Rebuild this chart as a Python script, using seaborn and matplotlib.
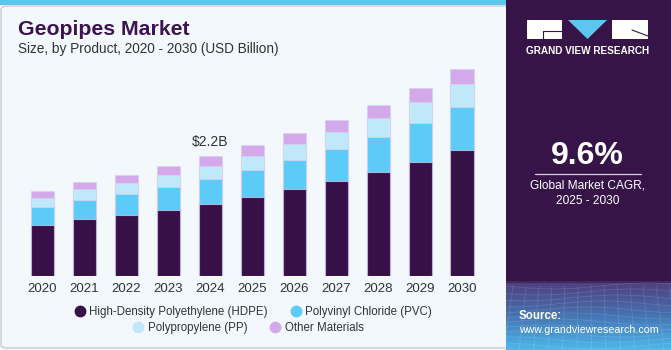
import matplotlib
matplotlib.use("Agg")
import matplotlib.pyplot as plt
import seaborn as sns
import numpy as np
import pandas as pd
from matplotlib.patches import Rectangle, Polygon, FancyBboxPatch
from matplotlib.lines import Line2D
from matplotlib.colors import LinearSegmentedColormap

years = ["2020", "2021", "2022", "2023", "2024", "2025", "2026", "2027", "2028", "2029", "2030"]
hdpe = [0.94, 1.04, 1.12, 1.22, 1.32, 1.45, 1.59, 1.74, 1.91, 2.10, 2.32]
pvc = [0.33, 0.36, 0.39, 0.42, 0.47, 0.50, 0.55, 0.59, 0.65, 0.71, 0.78]
pp = [0.17, 0.19, 0.20, 0.22, 0.24, 0.26, 0.29, 0.32, 0.35, 0.39, 0.43]
other = [0.13, 0.14, 0.15, 0.16, 0.17, 0.19, 0.20, 0.22, 0.23, 0.25, 0.28]
series_names = ["High-Density Polyethylene (HDPE)", "Polyvinyl Chloride (PVC)",
                "Polypropylene (PP)", "Other Materials"]
colors = ["#371047", "#5ccbf7", "#bfe9fa", "#d4a9eb"]

sns.set_theme(style="white")
plt.rcParams['font.family'] = ['Liberation Sans', 'DejaVu Sans']

W, H = 671, 350
fig = plt.figure(figsize=(W / 100, H / 100), dpi=100)
fig.patch.set_facecolor("#f3f8fc")

def fx(px):
    return px / W

def fy(py):
    return 1 - py / H

# border of left panel
fig.patches.append(FancyBboxPatch((fx(1), fy(348)), fx(520), fy(6) - fy(348),
                                  boxstyle="round,pad=0,rounding_size=0.01",
                                  transform=fig.transFigure, facecolor="#f3f8fc",
                                  edgecolor="#c9cdd2", linewidth=1.0, zorder=-2))
# top cyan strip
fig.patches.append(Rectangle((0, fy(5)), fx(506), 5 / H, transform=fig.transFigure,
                             facecolor="#5cc6ee", edgecolor="none", zorder=-1))

# main axes
ax = fig.add_axes([fx(11), 1 - 276 / H, fx(493.5) - fx(11), (276 - 60) / H])
ax.set_facecolor("none")

cum = np.cumsum(np.array([hdpe, pvc, pp, other]), axis=0)
for i in range(3, -1, -1):
    d = pd.DataFrame({"year": years, "val": cum[i]})
    sns.barplot(data=d, x="year", y="val", color=colors[i], width=0.55,
                edgecolor=(0.85, 0.82, 0.95, 0.7), linewidth=0.8, saturation=1, ax=ax)

ax.set_xlim(-0.75, 10.75)
ax.set_ylim(0, 3.97)
ax.set_xlabel("")
ax.set_ylabel("")
ax.set_yticks([])
ax.tick_params(axis="x", length=0, pad=5, labelsize=9.5, labelcolor="#333333")
for s in ax.spines.values():
    s.set_visible(False)

ax.text(4, cum[3][4] + 0.14, "$2.2B", ha="center", va="bottom", fontsize=10, color="#333333")

# titles
fig.text(fx(18), fy(35), "Geopipes Market", fontsize=15.3, fontweight="bold",
         color="#3b1450", ha="left", va="baseline")
fig.text(fx(18), fy(53), "Size, by Product, 2020 - 2030 (USD Billion)", fontsize=9.8,
         color="#333333", ha="left", va="baseline")

# legends
def handle(c):
    return Line2D([], [], marker="o", linestyle="none", markersize=7.5,
                  markerfacecolor=c, markeredgecolor=c)

leg1 = fig.legend([handle(colors[0]), handle(colors[1])], series_names[:2], ncol=2,
                  loc="center", bbox_to_anchor=(fx(253), fy(312)), frameon=False,
                  fontsize=8.3, handletextpad=0.35, columnspacing=1.9, handlelength=1.0,
                  borderaxespad=0, labelcolor="#333333")
leg2 = fig.legend([handle(colors[2]), handle(colors[3])], series_names[2:], ncol=2,
                  loc="center", bbox_to_anchor=(fx(248), fy(328)), frameon=False,
                  fontsize=8.3, handletextpad=0.35, columnspacing=1.9, handlelength=1.0,
                  borderaxespad=0, labelcolor="#333333")

# right panel
axr = fig.add_axes([fx(506), 0, 1 - fx(506), 1])
axr.set_zorder(2)
axr.set_xlim(506, 671)
axr.set_ylim(350, 0)
axr.axis("off")
grad_cmap = LinearSegmentedColormap.from_list(
    "g", [(0.0, "#361448"), (0.806, "#361448"), (0.81, "#4f3f7e"),
          (0.9, "#4670b0"), (1.0, "#4cb6e8")])
grad = np.linspace(0, 1, 350).reshape(-1, 1)
axr.imshow(grad, cmap=grad_cmap, aspect="auto", extent=(506, 671, 350, 0), zorder=0)
# faint mesh lines in the bottom band
for k in range(12):
    xs = np.linspace(506, 671, 50)
    yy = 286 + k * 6 + 3 * np.sin((xs - 506) / 30 + k * 0.5)
    axr.plot(xs, yy, color="white", alpha=0.12, lw=0.6, zorder=1)
for k in range(14):
    x0 = 500 + k * 13
    axr.plot([x0, x0 - 10 + k * 1.5], [286, 350], color="white", alpha=0.12, lw=0.6, zorder=1)

# logo
axr.add_patch(Rectangle((527, 20), 35, 19, facecolor="white", edgecolor="none", zorder=2))
axr.plot([543, 562], [31, 31], color="#361448", lw=0.8, zorder=3)
axr.plot([543, 543], [31, 39], color="#361448", lw=0.8, zorder=3)
axr.add_patch(Polygon([(568, 20), (607, 20), (587.5, 39)], closed=True,
                      facecolor="#5cc6ee", edgecolor="none", zorder=2))
axr.add_patch(Rectangle((612, 20), 36, 19, facecolor="white", edgecolor="none", zorder=2))
axr.plot([632, 648], [30, 36], color="#361448", lw=0.8, zorder=3)
axr.text(587.5, 51.5, "GRAND VIEW RESEARCH", ha="center", va="center", fontsize=7.2,
         fontweight="bold", color="white", zorder=3)

axr.text(587.5, 156, "9.6%", ha="center", va="center", fontsize=23, fontweight="bold",
         color="white", zorder=3)
axr.plot([535, 641], [173.5, 173.5], color="#d8d0e0", lw=0.9, zorder=3)
axr.text(587.5, 185.5, "Global Market CAGR,", ha="center", va="center", fontsize=8.6,
         color="white", zorder=3)
axr.text(587.5, 201, "2025 - 2030", ha="center", va="center", fontsize=8.6,
         color="white", zorder=3)

axr.text(519, 316, "Source:", ha="left", va="center", fontsize=8.3, fontweight="bold",
         color="white", zorder=3)
axr.text(519, 330, "www.grandviewresearch.com", ha="left", va="center", fontsize=7.7,
         color="white", zorder=3)

fig.savefig("out.png", dpi=100, facecolor=fig.get_facecolor())
